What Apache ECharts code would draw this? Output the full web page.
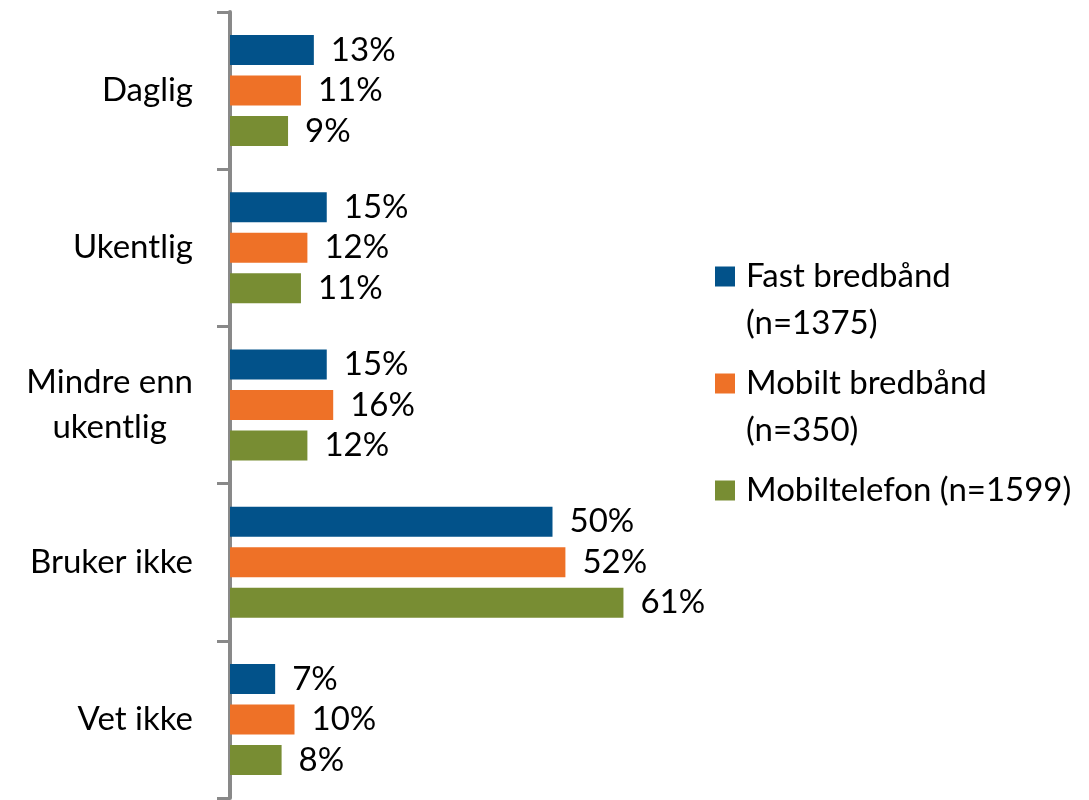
<!DOCTYPE html>
<html>
<head>
<meta charset="utf-8">
<script src="https://cdn.jsdelivr.net/npm/echarts@6/dist/echarts.min.js"></script>
<style>
  html, body { margin: 0; padding: 0; background: #fff; }
  #chart { width: 1089px; height: 800px; }
</style>
</head>
<body>
<div id="chart"></div>
<script>
// kategorier (ovenfra og ned)
const categories = ['Daglig', 'Ukentlig', 'Mindre enn\nukentlig', 'Bruker ikke', 'Vet ikke']
const seriesNames = ['Fast bredbånd\n(n=1375)', 'Mobilt bredbånd\n(n=350)', 'Mobiltelefon (n=1599)']
const fastBredband = [13, 15, 15, 50, 7]
const mobiltBredband = [11, 12, 16, 52, 10]
const mobiltelefon = [9, 11, 12, 61, 8]
const colors = ['#02528A', '#EE7127', '#788D33']

const FONT = 'Lato'
const FS = 33
const chart = echarts.init(document.getElementById('chart'))

const mkSeries = (name, data, i) => ({
  name,
  type: 'bar',
  data,
  barWidth: 30,
  barGap: '35%',
  itemStyle: { color: colors[i] },
  label: {
    show: true,
    position: 'right',
    distance: 17,
    formatter: '{c}%',
    color: '#000',
    fontFamily: FONT,
    fontSize: FS
  }
})

chart.setOption({
  animation: false,
  grid: { left: 230, right: 214, top: 12, bottom: 2 },
  xAxis: {
    type: 'value',
    min: 0,
    max: 100,
    show: false
  },
  yAxis: {
    type: 'category',
    inverse: true,
    data: categories,
    axisLine: { lineStyle: { color: '#898989', width: 4 } },
    axisTick: { show: true, length: 13, lineStyle: { color: '#898989', width: 3 } },
    axisLabel: {
      margin: 37,
      color: '#000',
      fontFamily: FONT,
      fontSize: FS,
      lineHeight: 45,
      formatter: (v) => v.split('\n').map(s => `{c|${s}}`).join('\n'),
      rich: { c: { align: 'center', fontFamily: FONT, fontSize: FS, lineHeight: 45, color: '#000' } }
    }
  },
  legend: {
    orient: 'vertical',
    left: 710,
    top: 201,
    itemWidth: 20,
    itemHeight: 20,
    itemGap: -34,
    icon: 'rect',
    // tom linje foran / etter slik at ikonet står ved første tekstlinje
    formatter: (n) => n.includes('\n') ? '\n' + n : '\n' + n + '\n',
    textStyle: { color: '#000', fontFamily: FONT, fontSize: FS, lineHeight: 47, padding: [0, 0, 0, 6] },
    data: seriesNames
  },
  series: [
    mkSeries(seriesNames[0], fastBredband, 0),
    mkSeries(seriesNames[1], mobiltBredband, 1),
    mkSeries(seriesNames[2], mobiltelefon, 2)
  ]
})
</script>
</body>
</html>
